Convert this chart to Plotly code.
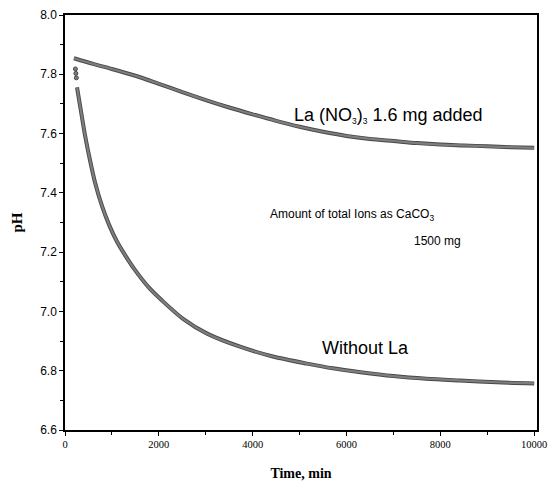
import plotly.graph_objects as go

# Data
time_la = [190, 600, 1000, 1500, 2000, 2500, 3000, 3500, 4000, 4500, 5000, 5500,
           6000, 6500, 7000, 7500, 8000, 8500, 9000, 9500, 10000]
ph_la = [7.854, 7.835, 7.818, 7.795, 7.768, 7.740, 7.713, 7.688, 7.665, 7.643, 7.623,
         7.606, 7.592, 7.582, 7.575, 7.568, 7.563, 7.560, 7.557, 7.554, 7.552]

time_no = [256, 320, 426, 533, 640, 790, 940, 1110, 1280, 1490, 1790, 2080, 2516, 3030,
           3730, 4430, 5160, 5710, 6300, 7000, 7700, 8420, 9200, 10000]
ph_no = [7.756, 7.695, 7.595, 7.510, 7.435, 7.355, 7.292, 7.235, 7.190, 7.140, 7.080,
         7.035, 6.975, 6.925, 6.881, 6.848, 6.824, 6.808, 6.795, 6.782, 6.773, 6.767,
         6.761, 6.757]

time_dots = [222, 232, 242]
ph_dots = [7.818, 7.803, 7.788]

x_ticks = [0, 2000, 4000, 6000, 8000, 10000]
y_ticks = [6.6, 6.8, 7.0, 7.2, 7.4, 7.6, 7.8, 8.0]

fig = go.Figure()
for xs, ys in [(time_la, ph_la), (time_no, ph_no)]:
    fig.add_trace(go.Scatter(x=xs, y=ys, mode="lines",
                             line=dict(color="#484848", width=4, shape="spline", smoothing=0.8),
                             hoverinfo="skip", showlegend=False))
    fig.add_trace(go.Scatter(x=xs, y=ys, mode="lines",
                             line=dict(color="#7e7e7e", width=2.2, shape="spline", smoothing=0.8),
                             showlegend=False))
fig.add_trace(go.Scatter(x=time_dots, y=ph_dots, mode="markers",
                         marker=dict(color="#7e7e7e", size=4, line=dict(color="#484848", width=1)),
                         showlegend=False))

fig.update_layout(
    width=552, height=490,
    margin=dict(l=65, r=15, t=15, b=60),
    paper_bgcolor="white", plot_bgcolor="white",
    xaxis=dict(range=[0, 10060], tickvals=x_ticks, ticktext=[str(v) for v in x_ticks],
               automargin=False,
               showgrid=False, zeroline=False, showline=True, linecolor="black", linewidth=1.5,
               mirror=True, ticks="outside", ticklen=4, tickcolor="black",
               minor=dict(dtick=1000, ticks="outside", ticklen=3, tickcolor="black"),
               tickfont=dict(family="Liberation Serif", size=10.5, color="black"),
               title=dict(text="<b>Time, min</b>", font=dict(family="Liberation Serif", size=14, color="black"),
                          standoff=19)),
    yaxis=dict(range=[6.6, 8.0], tickvals=y_ticks, ticktext=[f"{v:.1f}" for v in y_ticks],
               automargin=False,
               showgrid=False, zeroline=False, showline=True, linecolor="black", linewidth=1.5,
               mirror=True, ticks="outside", ticklen=4, tickcolor="black",
               minor=dict(dtick=0.1, ticks="outside", ticklen=3, tickcolor="black"),
               tickfont=dict(family="Liberation Sans", size=12, color="black"),
               title=dict(text="<b>pH</b>", font=dict(family="Liberation Serif", size=15, color="black"),
                          standoff=14)),
)

fig.add_annotation(x=4840, y=7.661, xref="x", yref="y", xanchor="left", yanchor="middle",
                   text="La (NO<span style='font-size:12px'><sub>3</sub></span>)<span style='font-size:12px'><sub>3</sub></span> 1.6 mg added",
                   showarrow=False,
                   font=dict(family="Liberation Sans", size=18, color="black"))
fig.add_annotation(x=5437, y=6.878, xref="x", yref="y", xanchor="left", yanchor="middle",
                   text="Without La", showarrow=False,
                   font=dict(family="Liberation Sans", size=18, color="black"))
fig.add_annotation(x=4330, y=7.325, xref="x", yref="y", xanchor="left", yanchor="middle",
                   text="Amount of total Ions as CaCO<sub>3</sub>", showarrow=False,
                   font=dict(family="Liberation Sans", size=12, color="black"))
fig.add_annotation(x=8480, y=7.237, xref="x", yref="y", xanchor="right", yanchor="middle",
                   text="1500 mg", showarrow=False,
                   font=dict(family="Liberation Sans", size=12, color="black"))

fig.write_html("out.html", config={"displayModeBar": False},
               post_script="document.body.style.margin='0';")
